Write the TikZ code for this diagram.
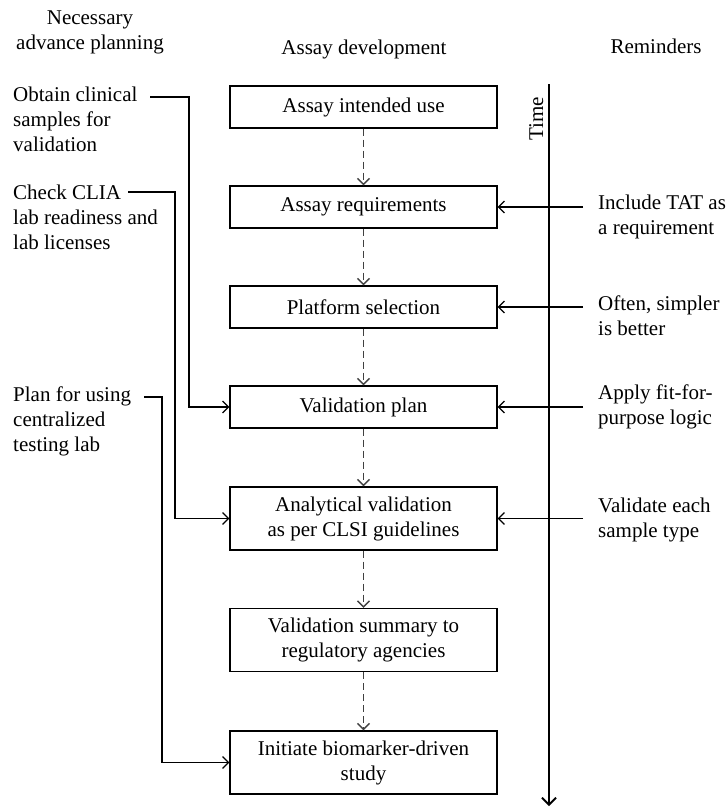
\documentclass[tikz,border=0pt]{standalone}
\usepackage{fontspec}
\setmainfont{Liberation Serif}
\usetikzlibrary{arrows.meta}
\tikzset{
  head/.style    = {font=\fontsize{21}{25}\selectfont, inner sep=0pt},
  stepbox/.style = {draw, line width=1.2pt, minimum width=267pt, minimum height=42pt,
                    align=center, font=\fontsize{21}{25}\selectfont, inner sep=0pt},
  tallbox/.style = {stepbox, minimum height=63pt},
  note/.style    = {font=\fontsize{21}{25}\selectfont, align=left, anchor=north west,
                    inner sep=0pt},
  % solid arrows into the boxes, dashed grey ones from box to box
  conn/.style    = {line width=1.2pt, -{Straight Barb[length=6pt, width=12pt]}},
  flow/.style    = {conn, line width=1.5pt, black!75, dash pattern=on 7pt off 4pt},
}
\begin{document}
\begin{tikzpicture}[x=1pt, y=-1pt]
\useasboundingbox (0,0) rectangle (727,807);
% column heads
\node[head, align=center, anchor=north] (hplan) at (90,10.5) {Necessary\\advance planning};
\node[head, anchor=base] (hdev) at (364,54) {Assay development};
\node[head, anchor=base] (hrem) at (656,53) {Reminders};
% the steps
\node[stepbox] (use)      at (363.5,107)   {Assay intended use};
\node[stepbox] (req)      at (363.5,207)   {Assay requirements};
\node[stepbox] (platform) at (363.5,307)   {Platform selection};
\node[stepbox] (vplan)    at (363.5,407)   {Validation plan};
\node[tallbox] (analyt)   at (363.5,518.5) {Analytical validation\\as per CLSI guidelines};
\node[tallbox] (summary)  at (363.5,640)   {Validation summary to\\regulatory agencies};
\node[tallbox] (initiate) at (363.5,762.5) {Initiate biomarker-driven\\study};
\foreach \a/\b in {use/req, req/platform, platform/vplan, vplan/analyt,
                   analyt/summary, summary/initiate}
  \draw[flow] (\a) -- (\b);
% time axis
\coordinate (ttop) at (549,84);
\coordinate (tend) at (549,806);
\draw[line width=1.8pt, -{Straight Barb[length=7pt, width=14pt]}] (ttop) -- (tend);
\node[head, rotate=90, anchor=base east] (time) at (543,97) {Time};
% advance planning
\node[note] (obtain) at (13,86.5)  {Obtain clinical\\samples for\\validation};
\node[note] (check)  at (13,184.5) {Check CLIA\\lab readiness and\\lab licenses};
\node[note] (central) at (13,387) {Plan for using\\centralized\\testing lab};
\coordinate (obtainend)  at (150,97);
\coordinate (checkend)   at (128,192);
\coordinate (centralend) at (144,397);
\draw[conn] (obtainend) -- ++(39,0) |- (vplan.west);
\draw[conn] (checkend) -- ++(47,0) |- (analyt.west);
\draw[conn] (centralend) -- ++(18,0) |- (initiate.west);
% reminders
\node[note] (tat)      at (598,194.5) {Include TAT as\\a requirement};
\node[note] (simpler)  at (598,295.5) {Often, simpler\\is better};
\node[note] (fit)      at (598,384.5) {Apply fit-for-\\purpose logic};
\node[note] (validate) at (598,497.5) {Validate each\\sample type};
\draw[conn] ([xshift=-15pt]tat.west |- req.east) -- (req.east);
\draw[conn] ([xshift=-15pt]simpler.west |- platform.east) -- (platform.east);
\draw[conn] ([xshift=-15pt]fit.west |- vplan.east) -- (vplan.east);
\draw[conn] ([xshift=-15pt]validate.west |- analyt.east) -- (analyt.east);
\end{tikzpicture}
\end{document}
